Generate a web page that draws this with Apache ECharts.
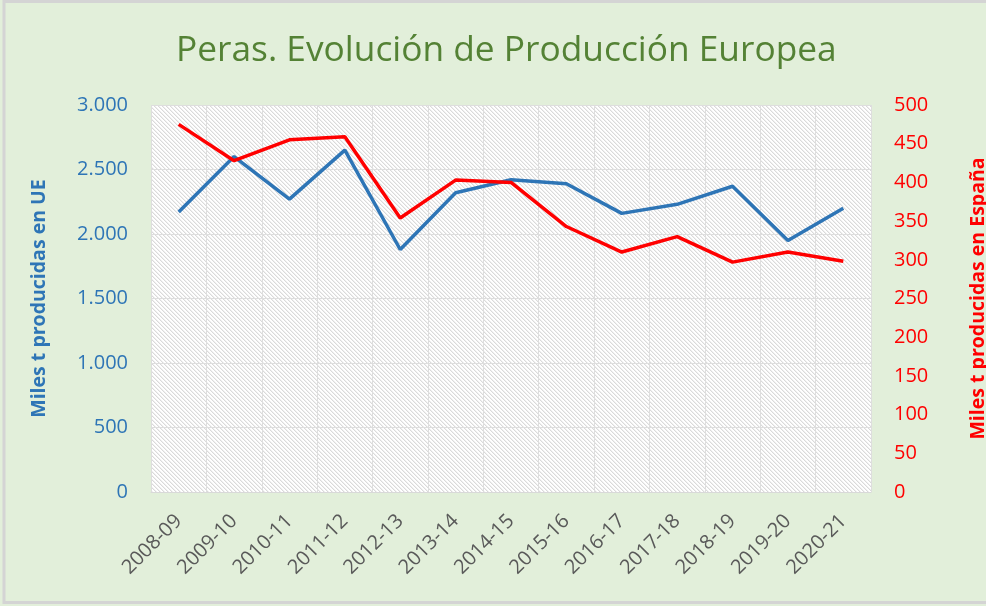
<!DOCTYPE html>
<html>
<head>
<meta charset="utf-8">
<script src="https://cdn.jsdelivr.net/npm/echarts@6/dist/echarts.min.js"></script>
<style>
  html, body { margin: 0; padding: 0; background: #e2efda; }
  #chart { width: 986px; height: 606px; }
</style>
</head>
<body>
<div id="chart"></div>
<script>
// campañas
const campaigns = ['2008-09', '2009-10', '2010-11', '2011-12', '2012-13', '2013-14', '2014-15',
  '2015-16', '2016-17', '2017-18', '2018-19', '2019-20', '2020-21']

// miles de toneladas, UE (eje izquierdo)
const produccionUE = [2170, 2600, 2270, 2650, 1880, 2320, 2420, 2390, 2160, 2230, 2370, 1950, 2200]

// miles de toneladas, España (eje derecho)
const produccionEspana = [475, 428, 455, 459, 354, 403, 400, 343, 310, 330, 297, 310, 298]

// hatch fill for the plot area
function makeHatch() {
  const n = 4
  const c = document.createElement('canvas')
  c.width = n
  c.height = n
  const ctx = c.getContext('2d')
  ctx.fillStyle = '#ffffff'
  ctx.fillRect(0, 0, n, n)
  for (let y = 0; y < n; y++) {
    for (let x = 0; x < n; x++) {
      const d = ((x - y) % n + n) % n
      if (d === 0) {
        ctx.fillStyle = '#dadada'
        ctx.fillRect(x, y, 1, 1)
      } else if (d === 1) {
        ctx.fillStyle = '#f0f0f0'
        ctx.fillRect(x, y, 1, 1)
      }
    }
  }
  return c
}

const chart = echarts.init(document.getElementById('chart'))
const font = '"Open Sans", Calibri, sans-serif'

const option = {
  backgroundColor: '#e2efda',
  animation: false,
  textStyle: { fontFamily: font },
  title: {
    text: 'Peras. Evolución de Producción Europea',
    left: 171,
    top: 28,
    textStyle: {
      color: '#548235',
      fontSize: 35.3,
      fontWeight: 'normal',
      fontFamily: font
    }
  },
  graphic: [
    {
      type: 'rect',
      silent: true,
      shape: { x: 4, y: 1.5, width: 990, height: 601 },
      style: { fill: 'none', stroke: '#d4d4d4', lineWidth: 3 }
    }
  ],
  grid: {
    left: 151,
    right: 115,
    top: 105,
    bottom: 114,
    outerBoundsMode: 'none',
    show: true,
    borderWidth: 0,
    backgroundColor: { image: makeHatch(), repeat: 'repeat' }
  },
  xAxis: {
    type: 'category',
    data: campaigns,
    boundaryGap: true,
    axisLine: { lineStyle: { color: '#d9d9d9', width: 1 } },
    axisTick: { show: false },
    splitLine: { show: true, lineStyle: { color: '#dedede', width: 1 } },
    axisLabel: {
      rotate: 45,
      margin: 26,
      color: '#595959',
      fontSize: 20,
      fontFamily: font,
      interval: 0
    }
  },
  yAxis: [
    {
      type: 'value',
      min: 0,
      max: 3000,
      interval: 500,
      name: 'Miles t producidas en UE',
      nameLocation: 'middle',
      nameRotate: 90,
      nameGap: 102,
      nameTextStyle: { color: '#2e75b6', fontSize: 19.5, fontWeight: 'bold', fontFamily: font },
      axisLine: { show: false },
      axisTick: { show: false },
      splitLine: { lineStyle: { color: '#dedede', width: 1 } },
      axisLabel: {
        color: '#2e75b6',
        fontSize: 20,
        margin: 23,
        fontFamily: font,
        formatter: v => String(v).replace(/\B(?=(\d{3})+(?!\d))/g, '.')
      }
    },
    {
      type: 'value',
      min: 0,
      max: 500,
      interval: 50,
      position: 'right',
      name: 'Miles t producidas en España',
      nameLocation: 'middle',
      nameRotate: 90,
      nameGap: 97,
      nameTextStyle: { color: '#ff0000', fontSize: 19.5, fontWeight: 'bold', fontFamily: font },
      axisLine: { show: false },
      axisTick: { show: false },
      splitLine: { show: false },
      axisLabel: {
        color: '#ff0000',
        fontSize: 20,
        margin: 23,
        fontFamily: font
      }
    }
  ],
  series: [
    {
      name: 'UE',
      type: 'line',
      yAxisIndex: 0,
      data: produccionUE,
      showSymbol: false,
      lineStyle: { color: '#2e75b6', width: 3.5 },
      itemStyle: { color: '#2e75b6' }
    },
    {
      name: 'España',
      type: 'line',
      yAxisIndex: 1,
      data: produccionEspana,
      showSymbol: false,
      lineStyle: { color: '#ff0000', width: 3.5 },
      itemStyle: { color: '#ff0000' }
    }
  ]
}

chart.setOption(option)
window.addEventListener('resize', () => chart.resize())
</script>
</body>
</html>
